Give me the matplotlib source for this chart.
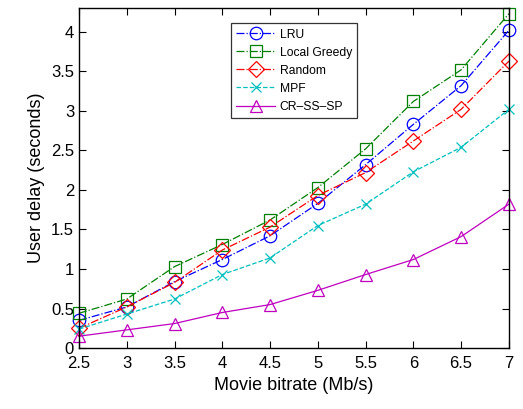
import matplotlib

matplotlib.use("Agg")
import matplotlib.pyplot as plt

plt.rcParams.update({"font.family": ["Liberation Sans", "DejaVu Sans"]})

BITRATE = [2.5, 3, 3.5, 4, 4.5, 5, 5.5, 6, 6.5, 7]
LRU = [0.35, 0.52, 0.84, 1.12, 1.42, 1.83, 2.32, 2.83, 3.32, 4.02]
LOCAL_GREEDY = [0.44, 0.62, 1.03, 1.31, 1.62, 2.03, 2.52, 3.12, 3.52, 4.23]
RANDOM = [0.25, 0.52, 0.83, 1.24, 1.53, 1.93, 2.22, 2.62, 3.02, 3.63]
MPF = [0.24, 0.43, 0.62, 0.93, 1.14, 1.55, 1.82, 2.23, 2.54, 3.02]
CR_SS_SP = [0.15, 0.23, 0.31, 0.45, 0.55, 0.73, 0.93, 1.12, 1.41, 1.82]

X_TICKS = [2.5, 3, 3.5, 4, 4.5, 5, 5.5, 6, 6.5, 7]
X_TICKLABELS = ["2.5", "3", "3.5", "4", "4.5", "5", "5.5", "6", "6.5", "7"]
Y_TICKS = [0, 0.5, 1, 1.5, 2, 2.5, 3, 3.5, 4]
Y_TICKLABELS = ["0", "0.5", "1", "1.5", "2", "2.5", "3", "3.5", "4"]

fig = plt.figure(figsize=(5.23, 4.09), dpi=100)
ax = fig.add_axes([0.151, 0.149, 0.822, 0.831])

series = [
    (LRU, "LRU", "b", "o", "-.", 9),
    (LOCAL_GREEDY, "Local Greedy", "g", "s", "-.", 8.5),
    (RANDOM, "Random", "r", "D", "-.", 8),
    (MPF, "MPF", "c", "x", "--", 6.5),
    (CR_SS_SP, "CR\u2013SS\u2013SP", "m", "^", "-", 9),
]
for vals, label, color, marker, ls, ms in series:
    ax.plot(BITRATE, vals, color=color, linestyle=ls, linewidth=0.9,
            marker=marker, markersize=ms, markerfacecolor="none",
            markeredgecolor=color, markeredgewidth=0.9, label=label,
            clip_on=False)

ax.set_xlim(2.5, 7)
ax.set_ylim(0, 4.3)
ax.set_xticks(X_TICKS)
ax.set_xticklabels(X_TICKLABELS)
ax.set_yticks(Y_TICKS)
ax.set_yticklabels(Y_TICKLABELS)
ax.tick_params(direction="in", top=True, right=True, labelsize=12, length=5, width=0.8)
ax.tick_params(axis="x", pad=6)
ax.set_xlabel("Movie bitrate (Mb/s)", fontsize=13)
ax.set_ylabel("User delay (seconds)", fontsize=13)
for sp in ax.spines.values():
    sp.set_linewidth(1.0)

leg = ax.legend(loc="upper left", bbox_to_anchor=(0.353, 0.956), fontsize=8.7,
                frameon=True, fancybox=False, edgecolor="black",
                handlelength=3.2, borderpad=0.45, labelspacing=0.5,
                handletextpad=0.4, borderaxespad=0)
leg.get_frame().set_linewidth(0.9)

fig.savefig("out.png", dpi=100)
